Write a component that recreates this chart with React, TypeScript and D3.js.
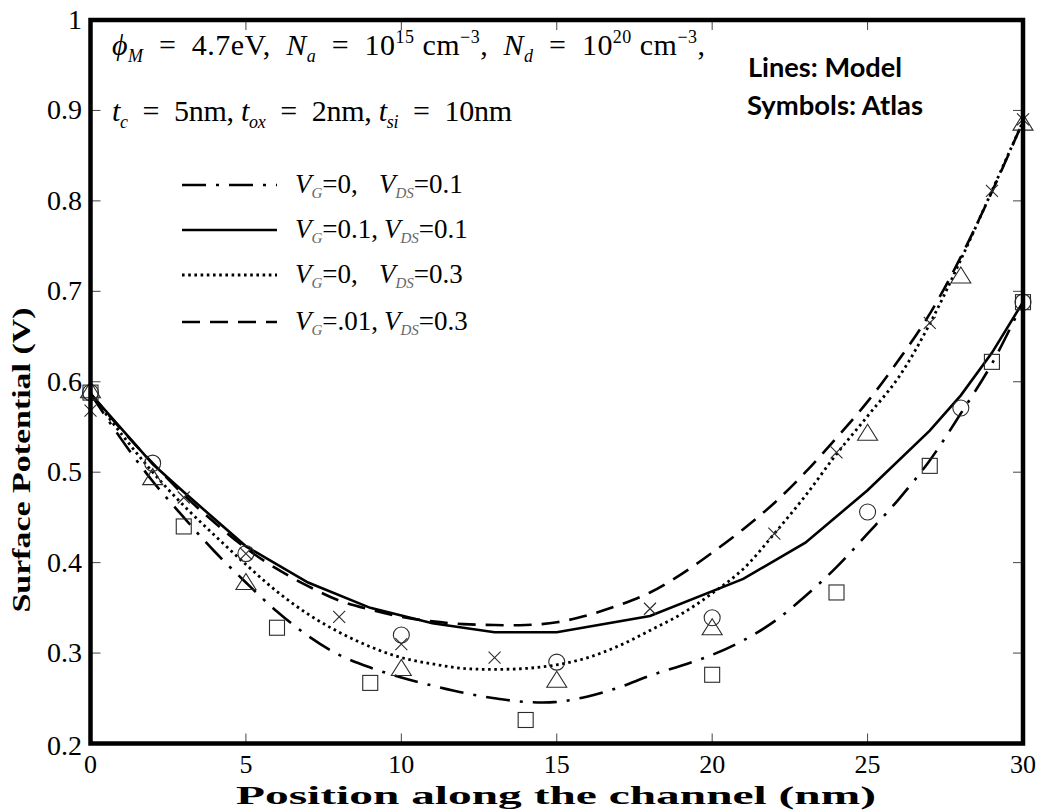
import React from 'react';
import * as d3 from 'd3';

// ---------- data ----------
const xTicks = [0, 5, 10, 15, 20, 25, 30];
const yTicks = [0.2, 0.3, 0.4, 0.5, 0.6, 0.7, 0.8, 0.9, 1];
const yTickLabels = ['0.2', '0.3', '0.4', '0.5', '0.6', '0.7', '0.8', '0.9', '1'];

// Model lines
const dashDotX = [0, 1, 2, 3, 4, 5, 6, 7, 8, 9, 10, 11, 12, 13, 14, 15, 16, 17, 18, 19, 20, 21, 22, 23, 24, 25, 26, 27, 28, 29, 30];
const dashDotY = [0.587, 0.536, 0.49, 0.45, 0.412, 0.378, 0.346, 0.319, 0.298, 0.284, 0.273, 0.264, 0.256, 0.25, 0.246, 0.246, 0.252, 0.262, 0.275, 0.286, 0.298, 0.314, 0.335, 0.363, 0.395, 0.432, 0.47, 0.513, 0.565, 0.62, 0.688];

const solidX = [0, 1, 2, 3, 5, 7, 9, 11, 13, 15, 18, 21, 23, 25, 27, 28, 29, 30];
const solidY = [0.587, 0.548, 0.509, 0.478, 0.418, 0.378, 0.35, 0.333, 0.323, 0.323, 0.341, 0.382, 0.422, 0.48, 0.546, 0.585, 0.632, 0.688];

const dottedX = [0, 1, 2, 3, 4, 5, 6, 7, 8, 9, 10, 11, 12, 13, 14, 15, 16, 17, 18, 19, 20, 21, 22, 23, 24, 25, 26, 27, 28, 29, 30];
const dottedY = [0.587, 0.542, 0.5, 0.463, 0.43, 0.398, 0.368, 0.343, 0.323, 0.307, 0.295, 0.288, 0.283, 0.282, 0.283, 0.287, 0.295, 0.308, 0.325, 0.343, 0.366, 0.393, 0.432, 0.474, 0.52, 0.562, 0.605, 0.664, 0.735, 0.811, 0.888];

const dashedX = [0, 1, 2, 3, 4, 5, 6, 7, 8, 9, 10, 11, 12, 13, 14, 15, 16, 17, 18, 19, 20, 21, 22, 23, 24, 25, 26, 27, 28, 29, 30];
const dashedY = [0.587, 0.547, 0.51, 0.475, 0.444, 0.416, 0.393, 0.374, 0.358, 0.348, 0.34, 0.335, 0.332, 0.331, 0.331, 0.334, 0.342, 0.353, 0.367, 0.387, 0.411, 0.437, 0.466, 0.5, 0.538, 0.578, 0.624, 0.675, 0.738, 0.81, 0.888];

// Atlas symbols
const squareX = [0, 3, 6, 9, 14, 20, 24, 27, 29, 30];
const squareY = [0.588, 0.44, 0.328, 0.267, 0.226, 0.276, 0.367, 0.507, 0.622, 0.688];
const circleX = [0, 2, 5, 10, 15, 20, 25, 28, 30];
const circleY = [0.588, 0.51, 0.41, 0.32, 0.29, 0.339, 0.456, 0.571, 0.688];
const triangleX = [0, 2, 5, 10, 15, 20, 25, 28, 30];
const triangleY = [0.59, 0.494, 0.378, 0.283, 0.27, 0.328, 0.543, 0.717, 0.886];
const crossX = [0, 3, 5, 8, 10, 13, 18, 22, 24, 27, 29, 30];
const crossY = [0.568, 0.472, 0.41, 0.34, 0.31, 0.295, 0.349, 0.432, 0.522, 0.665, 0.811, 0.89];

// legend
const legendVg = ['=0,', '=0.1,', '=0,', '=.01,'];
const legendVds = ['=0.1', '=0.1', '=0.3', '=0.3'];

// ---------- layout ----------
const W = 1051;
const H = 812;
const X0 = 90.5, X1 = 1023, Y0 = 743.5, Y1 = 20;
const serif = '"Liberation Serif", "Times New Roman", Times, serif';
const E = '\u2002';

const x = d3.scaleLinear().domain([0, 30]).range([X0, X1]);
const y = d3.scaleLinear().domain([0.2, 1]).range([Y0, Y1]);

const zip = (xs: number[], ys: number[]) => xs.map((v, i) => [v, ys[i]] as [number, number]);

const smooth = d3.line<[number, number]>().x(d => x(d[0])).y(d => y(d[1])).curve(d3.curveCatmullRom);
const straight = d3.line<[number, number]>().x(d => x(d[0])).y(d => y(d[1])).curve(d3.curveLinear);

const series = [
  { d: smooth(zip(dashDotX, dashDotY)), dash: '24 10 3 10', w: 2.6 },
  { d: straight(zip(solidX, solidY)), dash: undefined, w: 2.6 },
  { d: smooth(zip(dottedX, dottedY)), dash: '2.6 3.6', w: 2.8 },
  { d: smooth(zip(dashedX, dashedY)), dash: '18 10', w: 2.6 },
];

const mk = '#2a2a2a';

export default function App() {
  const legendRows = [185, 230, 275, 322];
  return (
    <svg width={W} height={H} style={{ position: 'absolute', left: 0, top: 0, background: '#fff' }}>
      <rect x={0} y={0} width={W} height={H} fill="#fff" />
      {/* model lines */}
      {series.map((s, i) => (
        <path key={i} d={s.d || ''} fill="none" stroke="#000" strokeWidth={s.w} strokeDasharray={s.dash} />
      ))}
      {/* symbols */}
      {squareX.map((v, i) => (
        <rect key={'s' + i} x={x(v) - 7.5} y={y(squareY[i]) - 7.5} width={15} height={15} fill="none" stroke={mk} strokeWidth={1.1} />
      ))}
      {circleX.map((v, i) => (
        <circle key={'c' + i} cx={x(v)} cy={y(circleY[i])} r={8} fill="none" stroke={mk} strokeWidth={1.1} />
      ))}
      {triangleX.map((v, i) => {
        const cx = x(v), cy = y(triangleY[i]);
        return <path key={'t' + i} d={`M${cx},${cy - 9}L${cx + 10},${cy + 7}L${cx - 10},${cy + 7}Z`} fill="none" stroke={mk} strokeWidth={1.1} />;
      })}
      {crossX.map((v, i) => {
        const cx = x(v), cy = y(crossY[i]);
        return <path key={'x' + i} d={`M${cx - 6},${cy - 6}L${cx + 6},${cy + 6}M${cx - 6},${cy + 6}L${cx + 6},${cy - 6}`} fill="none" stroke={mk} strokeWidth={1.1} />;
      })}

      {/* ticks */}
      {xTicks.map((t) => (
        <g key={'xt' + t}>
          <line x1={x(t)} x2={x(t)} y1={Y0} y2={Y0 - 10} stroke="#444" strokeWidth={1} />
          <line x1={x(t)} x2={x(t)} y1={Y1} y2={Y1 + 10} stroke="#444" strokeWidth={1} />
          <text x={x(t)} y={773} textAnchor="middle" fontFamily={serif} fontSize={26}>{t}</text>
        </g>
      ))}
      {yTicks.map((t, i) => (
        <g key={'yt' + t}>
          <line x1={X0} x2={X0 + 10} y1={y(t)} y2={y(t)} stroke="#444" strokeWidth={1} />
          <line x1={X1} x2={X1 - 10} y1={y(t)} y2={y(t)} stroke="#444" strokeWidth={1} />
          <text x={82} y={y(t) + (i === 0 ? 11 : 9)} textAnchor="end" fontFamily={serif} fontSize={28}>{yTickLabels[i]}</text>
        </g>
      ))}
      {/* frame */}
      <rect x={X0} y={Y1} width={X1 - X0} height={Y0 - Y1} fill="none" stroke="#000" strokeWidth={4.5} />

      {/* axis titles */}
      <text x={556} y={804} textAnchor="middle" fontFamily={serif} fontWeight="bold" fontSize={26} textLength={640} lengthAdjust="spacingAndGlyphs">Position along the channel (nm)</text>
      <text transform="translate(30,460) rotate(-90)" textAnchor="middle" fontFamily={serif} fontWeight="bold" fontSize={26} textLength={305} lengthAdjust="spacingAndGlyphs">Surface Potential (V)</text>

      {/* parameter annotation */}
      <text x={112} y={55} fontFamily={serif} fontSize={30} textLength={593} lengthAdjust="spacing">
        <tspan fontStyle="italic">ϕ</tspan>
        <tspan fontStyle="italic" fontSize={18} dy={7}>M</tspan>
        <tspan dy={-7}>{`${E}=${E}4.7eV,${E}`}</tspan>
        <tspan fontStyle="italic">N</tspan>
        <tspan fontStyle="italic" fontSize={18} dy={7}>a</tspan>
        <tspan dy={-7}>{`${E}=${E}10`}</tspan>
        <tspan fontSize={18} dy={-12}>15</tspan>
        <tspan dy={12}>{' cm'}</tspan>
        <tspan fontSize={18} dy={-12}>−3</tspan>
        <tspan dy={12}>{`,${E}`}</tspan>
        <tspan fontStyle="italic">N</tspan>
        <tspan fontStyle="italic" fontSize={18} dy={7}>d</tspan>
        <tspan dy={-7}>{`${E}=${E}10`}</tspan>
        <tspan fontSize={18} dy={-12}>20</tspan>
        <tspan dy={12}>{' cm'}</tspan>
        <tspan fontSize={18} dy={-12}>−3</tspan>
        <tspan dy={12}>,</tspan>
      </text>
      <text x={112} y={121} fontFamily={serif} fontSize={30} textLength={400} lengthAdjust="spacing">
        <tspan fontStyle="italic">t</tspan>
        <tspan fontStyle="italic" fontSize={18} dy={7}>c</tspan>
        <tspan dy={-7}>{`${E}=${E}5nm, `}</tspan>
        <tspan fontStyle="italic">t</tspan>
        <tspan fontStyle="italic" fontSize={18} dy={7}>ox</tspan>
        <tspan dy={-7}>{`${E}=${E}2nm, `}</tspan>
        <tspan fontStyle="italic">t</tspan>
        <tspan fontStyle="italic" fontSize={18} dy={7}>si</tspan>
        <tspan dy={-7}>{`${E}=${E}10nm`}</tspan>
      </text>

      <text x={748} y={77} fontFamily="Lato, 'Open Sans', sans-serif" fontWeight="bold" fontSize={27} textLength={154} lengthAdjust="spacingAndGlyphs">Lines: Model</text>
      <text x={747} y={115} fontFamily="Lato, 'Open Sans', sans-serif" fontWeight="bold" fontSize={27} textLength={176} lengthAdjust="spacingAndGlyphs">Symbols: Atlas</text>

      {/* legend */}
      {legendRows.map((ry, i) => (
        <g key={'lg' + i}>
          <line x1={182} x2={277} y1={ry} y2={ry} stroke="#000" strokeWidth={series[i].w} strokeDasharray={series[i].dash} />
          <text x={295} y={ry + 8} fontFamily={serif} fontSize={27}>
            <tspan fontStyle="italic">V</tspan>
            <tspan fontStyle="italic" fontSize={15} fill="#666" dy={5}>G</tspan>
            <tspan dy={-5}>{legendVg[i]}</tspan>
          </text>
          <text x={i === 1 || i === 3 ? 384 : 379} y={ry + 8} fontFamily={serif} fontSize={27}>
            <tspan fontStyle="italic">V</tspan>
            <tspan fontStyle="italic" fontSize={15} fill="#666" dy={5}>DS</tspan>
            <tspan dy={-5}>{legendVds[i]}</tspan>
          </text>
        </g>
      ))}
    </svg>
  );
}
